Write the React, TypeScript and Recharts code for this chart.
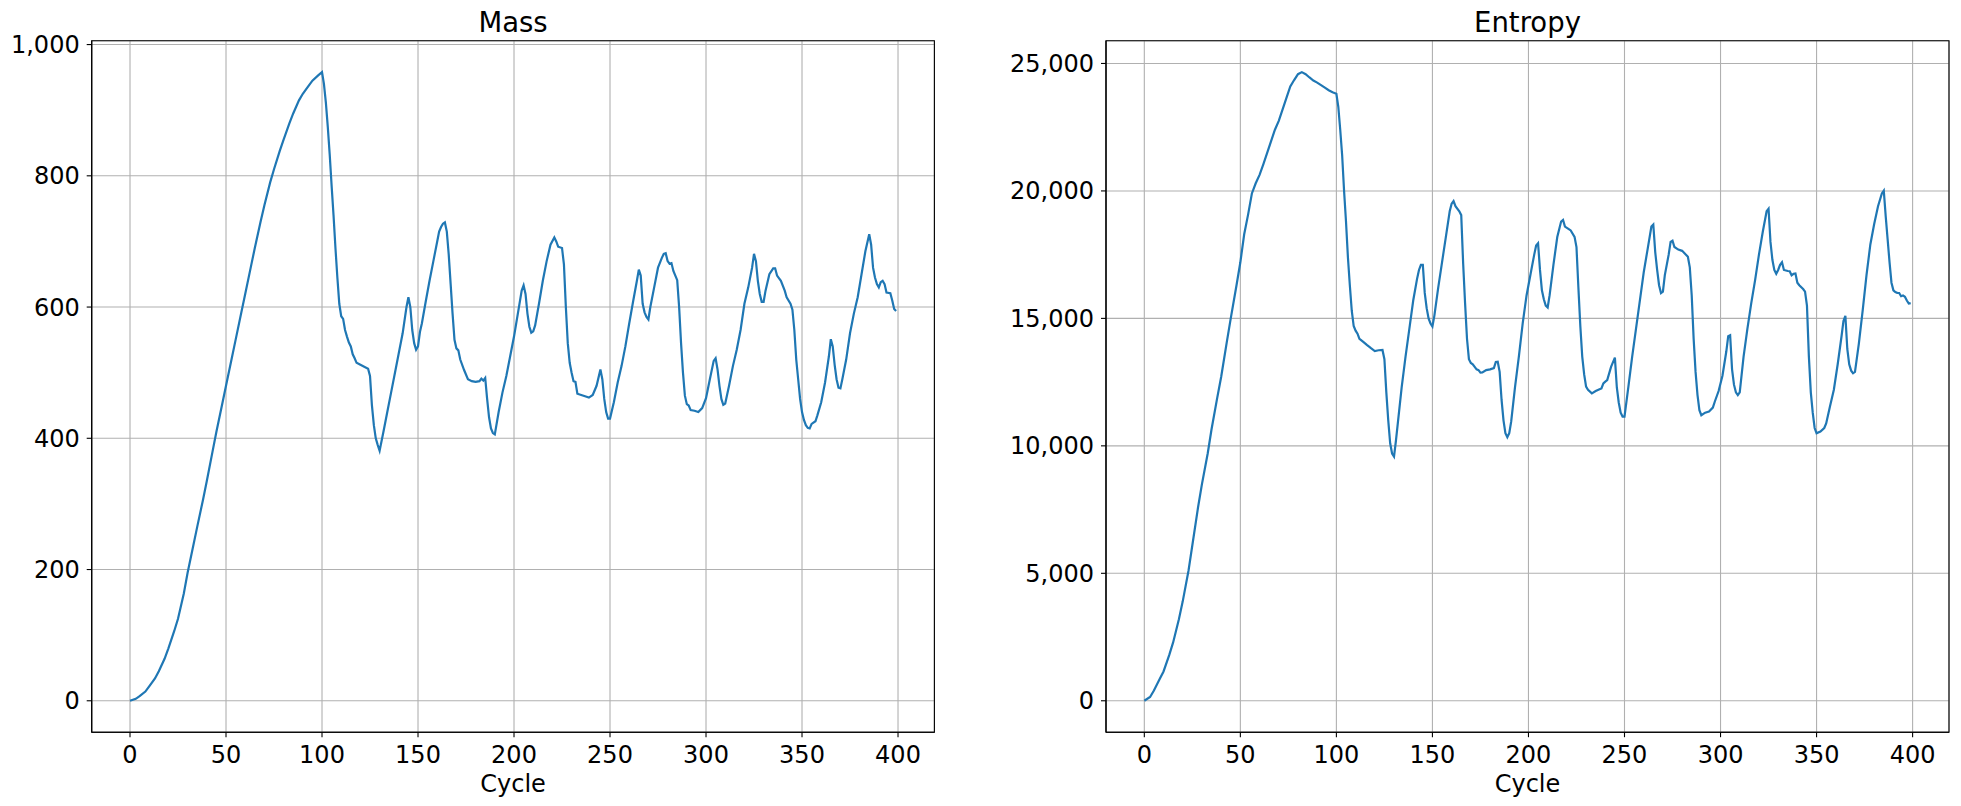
import React from 'react';
import { LineChart, Line, XAxis, YAxis, CartesianGrid, ReferenceArea } from 'recharts';

const xTicks = [0, 50, 100, 150, 200, 250, 300, 350, 400];
const massTicks = [0, 200, 400, 600, 800, 1000];
const entropyTicks = [0, 5000, 10000, 15000, 20000, 25000];

const massCycles = [
  0, 3, 5, 8, 10, 13, 15, 18, 20, 23, 25, 28, 30, 33, 35, 38, 40, 43, 45, 48, 50, 53, 55, 58, 60, 63, 65, 68, 70, 73, 75, 78, 80, 83, 85, 88, 90, 93, 95, 98, 100,
  101, 102, 103, 104, 105, 106, 107, 108, 109, 110, 111, 112, 113, 114, 115, 116, 117, 118, 120, 122, 124, 125, 126, 127, 128, 129, 130,
  132, 134, 136, 138, 140, 142, 144, 145, 146, 147, 148, 149, 150, 151, 152, 154, 156, 158, 160, 161, 162, 163, 164, 165, 166, 167, 168, 169, 170,
  171, 172, 174, 176, 178, 180, 182, 183, 184, 185, 186, 187, 188, 189, 190, 192, 194, 196, 198, 200, 202, 204, 205, 206, 207, 208, 209, 210,
  211, 213, 215, 217, 219, 221, 222, 223, 225, 226, 227, 228, 229, 230, 231, 232, 233, 235, 237, 239, 241, 243, 245, 246, 247, 248, 249, 250,
  252, 254, 256, 258, 260, 262, 264, 265, 266, 267, 268, 269, 270, 271, 273, 275, 277, 278, 279, 280, 281, 282, 283, 285, 286, 287, 288, 289, 290,
  291, 292, 294, 296, 298, 300, 302, 304, 305, 306, 307, 308, 309, 310, 312, 314, 316, 318, 320, 322, 324, 325, 326, 327, 328, 329, 330,
  331, 333, 335, 336, 337, 339, 341, 342, 344, 345, 346, 347, 348, 349, 350, 351, 352, 353, 354, 355, 357, 358, 360, 362, 364, 365, 366, 367, 368, 369, 370,
  371, 373, 375, 377, 379, 381, 383, 385, 386, 387, 388, 389, 390, 391, 392, 393, 394, 396, 397, 398, 399,
];
const massValues = [
  0, 3, 7, 14, 22, 34, 45, 64, 80, 106, 125, 163, 195, 237, 265, 306, 335, 380, 410, 452, 480, 522, 550, 592, 620, 662, 690, 730, 755, 790, 810, 838, 855, 880, 895, 915, 925, 937, 945, 953, 958,
  940, 912, 875, 833, 785, 740, 690, 645, 605, 586, 582, 565, 555, 546, 540, 528, 522, 515, 512, 509, 506, 495, 450, 420, 400, 390, 381,
  410, 440, 470, 500, 530, 560, 600, 615, 600, 565, 545, 535, 540, 562, 575, 608, 640, 670, 700, 715, 722, 727, 729, 715, 680, 635, 590, 550, 537,
  534, 520, 504, 490, 487, 486, 487, 491, 488, 492, 460, 432, 415, 408, 406, 440, 470, 495, 525, 555, 590, 625, 633, 620, 590, 570, 561, 563,
  572, 605, 640, 670, 695, 706, 700, 692, 690, 665, 600, 545, 515, 500, 487, 486, 468, 466, 464, 462, 466, 480, 505, 490, 460, 440, 430, 430,
  455, 485, 510, 540, 575, 608, 640, 657, 648, 605, 592, 585, 581, 600, 630, 660, 675, 681, 682, 670, 666, 667, 655, 641, 600, 545, 500, 465, 452,
  450, 443, 442, 440, 446, 461, 490, 518, 522, 505, 480, 460, 451, 453, 480, 510, 535, 565, 605, 630, 660, 681, 670, 640, 620, 608, 608,
  625, 650, 659, 659, 648, 640, 625, 615, 605, 596, 565, 520, 490, 460, 440, 428, 420, 416, 415, 422, 426, 435, 455, 485, 525, 551, 540, 512, 490, 477, 476,
  490, 520, 560, 590, 615, 650, 685, 711, 695, 660, 645, 635, 630, 638, 640, 635, 622, 621, 610, 597, 594,
];

const entropyCycles = [
  0, 3, 5, 8, 10, 13, 15, 18, 20, 23, 25, 28, 30, 33, 35, 38, 40, 43, 45, 48, 50, 52, 54, 56, 58, 60, 62, 64, 66, 68, 70, 72, 74, 76, 78, 80,
  82, 84, 86, 88, 90, 92, 94, 96, 98, 100, 101, 102, 103, 104, 105, 106, 107, 108, 109, 110, 111, 112, 114, 116, 118, 120, 122, 124, 125, 126,
  127, 128, 129, 130, 131, 132, 134, 136, 138, 140, 142, 143, 144, 145, 146, 147, 148, 149, 150, 151, 153, 155, 157, 159, 160, 161, 162, 164, 165,
  166, 167, 168, 169, 170, 171, 172, 173, 174, 175, 176, 178, 180, 182, 183, 184, 185, 186, 187, 188, 189, 190, 191, 193, 195, 197, 199, 201, 203,
  204, 205, 206, 207, 208, 209, 210, 211, 213, 215, 216, 217, 218, 219, 221, 222, 224, 225, 226, 227, 228, 229, 230, 231, 233, 235, 237, 238, 239,
  240, 241, 243, 245, 246, 247, 248, 249, 250, 252, 254, 256, 258, 260, 262, 264, 265, 266, 267, 268, 269, 270, 271, 273, 274, 275, 276, 278, 280,
  282, 283, 284, 285, 286, 287, 288, 289, 290, 292, 294, 296, 297, 299, 301, 303, 304, 305, 306, 307, 308, 309, 310, 312, 314, 316, 318, 320, 322,
  324, 325, 326, 327, 328, 329, 330, 331, 332, 333, 335, 336, 337, 338, 339, 340, 341, 343, 344, 345, 346, 347, 348, 349, 350, 352, 354, 355, 357,
  359, 361, 363, 364, 365, 366, 367, 368, 369, 370, 372, 374, 376, 378, 380, 382, 384, 385, 386, 387, 388, 389, 390, 391, 392, 393, 394, 395, 396,
  397, 398, 399,
];
const entropyValues = [
  0, 150, 400, 850, 1150, 1800, 2290, 3200, 3900, 5100, 6100, 7600, 8500, 9700, 10650, 11900, 12700, 14100, 15000, 16300, 17200, 18300, 19060, 19900, 20300, 20630, 21050, 21500, 21950, 22400, 22750, 23200, 23650, 24100, 24350, 24580,
  24660, 24580, 24450, 24330, 24250, 24150, 24050, 23950, 23870, 23810, 23300, 22400, 21400, 20000, 18800, 17400, 16300, 15300, 14700, 14520, 14400, 14200, 14080, 13950, 13830, 13720, 13750, 13760, 13400, 12100,
  11000, 10100, 9700, 9580, 10200, 10900, 12300, 13500, 14600, 15700, 16550, 16900, 17100, 17100, 16000, 15400, 15000, 14800, 14680, 15100, 16200, 17200, 18200, 19200, 19500, 19600, 19400, 19200, 19050,
  17150, 15600, 14200, 13400, 13250, 13200, 13100, 13000, 12970, 12870, 12880, 12970, 13000, 13050, 13290, 13300, 12900, 11800, 11000, 10500, 10340, 10500, 10950, 12300, 13500, 14800, 15900, 16700, 17500,
  17860, 17950, 16900, 16100, 15750, 15500, 15430, 15900, 17100, 18190, 18500, 18800, 18860, 18600, 18500, 18450, 18200, 17800, 16200, 14700, 13500, 12800, 12320, 12200, 12060, 12150, 12220, 12250, 12450,
  12520, 12580, 13100, 13460, 12300, 11700, 11300, 11150, 11150, 12300, 13500, 14600, 15700, 16800, 17700, 18600, 18680, 17600, 16900, 16300, 15995, 16050, 16700, 17500, 18000, 18050, 17800, 17700, 17650,
  17500, 17420, 17000, 15900, 14200, 12900, 12000, 11400, 11200, 11300, 11350, 11500, 11730, 12150, 12750, 13700, 14300, 14340, 13000, 12400, 12100, 11990, 12100, 13500, 14600, 15600, 16500, 17500, 18400,
  19200, 19300, 18000, 17300, 16900, 16750, 16900, 17100, 17200, 16900, 16860, 16850, 16690, 16750, 16760, 16400, 16300, 16150, 16050, 15500, 13500, 12100, 11300, 10700, 10490, 10560, 10700, 10880, 11550,
  12200, 13200, 14300, 14900, 15100, 13800, 13200, 12950, 12850, 12900, 14000, 15300, 16700, 17900, 18700, 19400, 19900, 20010, 19000, 18100, 17200, 16400, 16100, 16030, 16000, 15995, 15870, 15900, 15850,
  15700, 15580, 15600,
];

const massData = massCycles.map((c, i) => ({ x: c, y: massValues[i] }));
const entropyData = entropyCycles.map((c, i) => ({ x: c, y: entropyValues[i] }));

const FONT = "'DejaVu Sans', sans-serif";
const TICK_FS = 24;
const xDomain: [number, number] = [-19.95, 418.95];

function pad(values: number[]): [number, number] {
  const lo = Math.min(...values);
  const hi = Math.max(...values);
  const m = (hi - lo) * 0.05;
  return [lo - m, hi + m];
}

const fmt = (v: number) => v.toLocaleString('en-US');

function Panel(props: {
  data: { x: number; y: number }[];
  yTicks: number[];
  yDomain: [number, number];
  width: number;
  yAxisWidth: number;
  marginRight: number;
}) {
  const { data, yTicks, yDomain, width, yAxisWidth, marginRight } = props;
  const tickStyle = { fill: '#000', fontSize: TICK_FS, fontFamily: FONT };
  return (
    <LineChart
      width={width}
      height={806}
      data={data}
      margin={{ top: 40.7, right: marginRight, bottom: 0, left: 0 }}
    >
      <CartesianGrid stroke="#b0b0b0" strokeWidth={1.1} />
      <XAxis
        dataKey="x"
        type="number"
        domain={xDomain}
        ticks={xTicks}
        allowDataOverflow
        interval={0}
        height={73.8}
        tickSize={5}
        tickMargin={8.5}
        axisLine={{ stroke: '#000', strokeWidth: 1.1 }}
        tickLine={{ stroke: '#000', strokeWidth: 1.1 }}
        tick={tickStyle}
      />
      <YAxis
        type="number"
        domain={yDomain}
        ticks={yTicks}
        allowDataOverflow
        interval={0}
        width={yAxisWidth}
        tickSize={5}
        tickMargin={7}
        tickFormatter={fmt}
        axisLine={{ stroke: '#000', strokeWidth: 1.1 }}
        tickLine={{ stroke: '#000', strokeWidth: 1.1 }}
        tick={tickStyle}
      />
      <ReferenceArea
        x1={xDomain[0]}
        x2={xDomain[1]}
        y1={yDomain[0]}
        y2={yDomain[1]}
        fill="none"
        fillOpacity={0}
        stroke="#000"
        strokeWidth={1.1}
      />
      <Line
        dataKey="y"
        type="linear"
        dot={false}
        stroke="#1f77b4"
        strokeWidth={2.2}
        isAnimationActive={false}
      />
    </LineChart>
  );
}

export default function App() {
  const leftCenter = (91.7 + 934.4) / 2;
  const rightCenter = (1106 + 1949) / 2;
  return (
    <div style={{ position: 'absolute', left: 0, top: 0, width: 1961, height: 806, background: '#fff' }}>
      <div style={{ position: 'absolute', left: 0, top: 0 }}>
        <Panel
          data={massData}
          yTicks={massTicks}
          yDomain={pad(massValues)}
          width={960}
          yAxisWidth={91.7}
          marginRight={25.6}
        />
      </div>
      <div style={{ position: 'absolute', left: 980, top: 0 }}>
        <Panel
          data={entropyData}
          yTicks={entropyTicks}
          yDomain={pad(entropyValues)}
          width={981}
          yAxisWidth={126}
          marginRight={12}
        />
      </div>
      <svg
        width={1961}
        height={806}
        style={{ position: 'absolute', left: 0, top: 0, pointerEvents: 'none' }}
      >
        <text x={leftCenter} y={32} textAnchor="middle" fontFamily={FONT} fontSize={27.5} fill="#000">Mass</text>
        <text x={rightCenter} y={32} textAnchor="middle" fontFamily={FONT} fontSize={27.5} fill="#000">Entropy</text>
        <text x={leftCenter} y={792} textAnchor="middle" fontFamily={FONT} fontSize={TICK_FS} fill="#000">Cycle</text>
        <text x={rightCenter} y={792} textAnchor="middle" fontFamily={FONT} fontSize={TICK_FS} fill="#000">Cycle</text>
      </svg>
    </div>
  );
}
